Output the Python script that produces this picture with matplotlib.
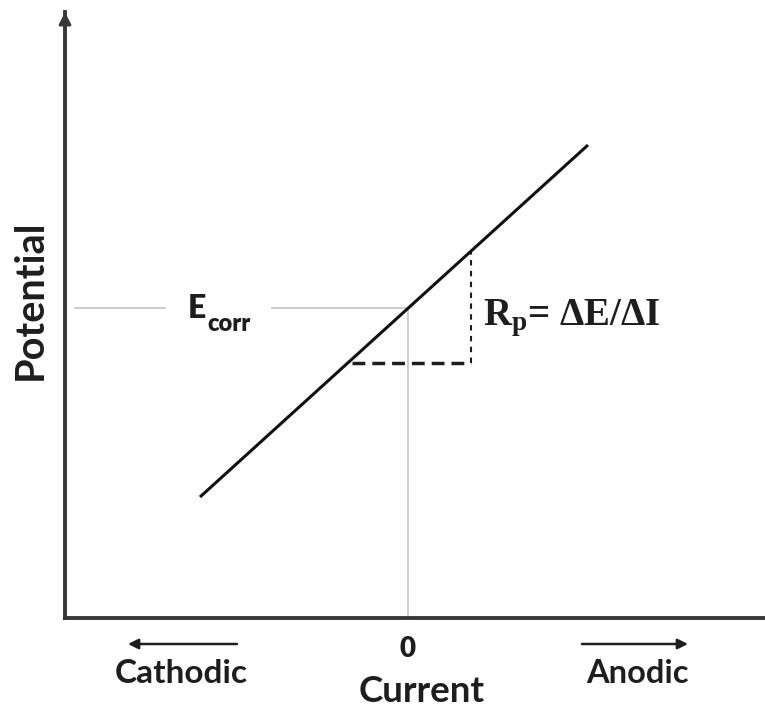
import matplotlib
matplotlib.use("Agg")
import matplotlib.pyplot as plt

plt.rcParams['font.family'] = ['Lato', 'DejaVu Sans']
plt.rcParams['font.weight'] = 'bold'
plt.rcParams['mathtext.fontset'] = 'custom'
plt.rcParams['mathtext.bf'] = 'Liberation Serif:bold'

# polarization line (current vs potential, arbitrary units)
current = [-2.08, 1.80]
potential = [-1.89, 1.63]

# Rp triangle corners
tri_current = [-0.56, 0.63]
tri_potential = [-0.55, 0.57]

e_corr = 0.0
i_zero = 0.0

axis_color = '#383838'
guide_color = '#cccccc'
ink = '#1e1e1e'

fig = plt.figure(figsize=(7.65, 7.12), dpi=100)
ax = fig.add_axes([65 / 765, 94 / 712, 700 / 765, 606 / 712])
ax.set_xlim(-3.43, 3.57)
ax.set_ylim(-3.10, 2.96)

for side in ['top', 'right']:
    ax.spines[side].set_visible(False)
for side in ['left', 'bottom']:
    ax.spines[side].set_color(axis_color)
    ax.spines[side].set_linewidth(2.8)

# arrow head on the potential axis
ax.annotate('', xy=(0, 1.0), xytext=(0, 0.97), xycoords='axes fraction',
            arrowprops=dict(arrowstyle='-|>', color=axis_color, lw=2.0,
                            mutation_scale=18, shrinkA=0, shrinkB=0))

# E_corr guide lines
ax.plot([-3.33, -2.43], [e_corr, e_corr], color=guide_color, lw=1.4, zorder=1)
ax.plot([-1.36, i_zero], [e_corr, e_corr], color=guide_color, lw=1.4, zorder=1)
ax.plot([i_zero, i_zero], [e_corr, ax.get_ylim()[0]], color=guide_color, lw=1.4, zorder=1)
e_txt = ax.text(-2.20, e_corr - 0.10, 'E', ha='left', va='baseline',
                fontsize=23, fontweight='heavy', color=ink)
ax.annotate('corr', xy=(1.0, 0.0), xycoords=e_txt, xytext=(0.5, -5.5),
            textcoords='offset points', ha='left', va='baseline',
            fontsize=17, fontweight='heavy', color=ink)

# main line
ax.plot(current, potential, color='#111111', lw=2.2, solid_capstyle='butt', zorder=3)

# Rp triangle
ax.plot(tri_current, [tri_potential[0], tri_potential[0]], color=ink, lw=2.5,
        dashes=(3.7, 2.0), zorder=2)
ax.plot([tri_current[1], tri_current[1]], tri_potential, color=ink, lw=1.5,
        dashes=(2.6, 2.6), zorder=2)
ax.text(0.75, -0.17, r'$\mathbf{R_p}$= ΔE/ΔI', ha='left', va='baseline',
        fontsize=28, family='Liberation Serif', fontweight='bold', color=ink)

# current axis ticks and labels
ax.set_xticks([i_zero])
ax.set_xticklabels(['0'], fontsize=20, fontweight='heavy', color=ink)
ax.tick_params(axis='x', length=0, pad=13)
ax.set_yticks([])
ax.set_xlabel('Current', fontsize=26.5, fontweight='bold', va='center', color=ink)
ax.xaxis.set_label_coords(0.509, -0.121)
ax.set_ylabel('Potential', fontsize=28.5, fontweight='bold', va='center', color=ink)
ax.yaxis.set_label_coords(-35 / 700, 0.525)

ax.annotate('', xy=(-2.80, -3.36), xytext=(-1.71, -3.36), annotation_clip=False,
            arrowprops=dict(arrowstyle='-|>', color=ink, lw=1.8,
                            mutation_scale=15, shrinkA=0, shrinkB=0))
ax.annotate('', xy=(2.80, -3.36), xytext=(1.74, -3.36), annotation_clip=False,
            arrowprops=dict(arrowstyle='-|>', color=ink, lw=1.8,
                            mutation_scale=15, shrinkA=0, shrinkB=0))
ax.text(-2.27, -3.75, 'Cathodic', ha='center', va='baseline', fontsize=24,
        color=ink, clip_on=False)
ax.text(2.29, -3.75, 'Anodic', ha='center', va='baseline', fontsize=23.5,
        color=ink, clip_on=False)

fig.savefig('out.png', dpi=100)
